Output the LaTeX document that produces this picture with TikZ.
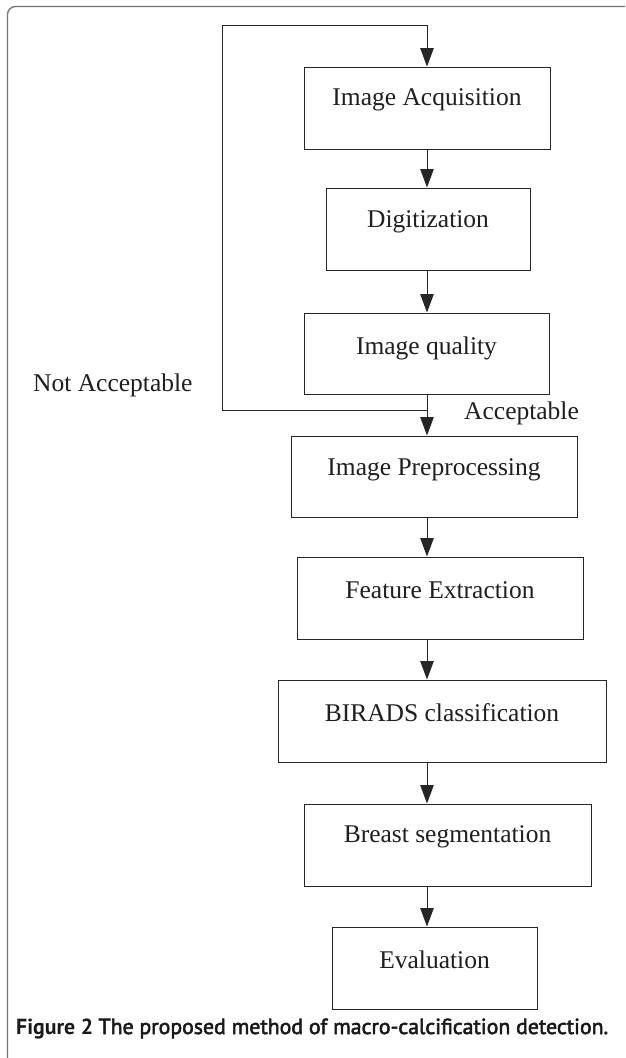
\documentclass[tikz,border=0pt]{standalone}
\usepackage{fontspec}
\setmainfont{Liberation Serif}
\newfontfamily\capfont{PT Sans}
\newfontfamily\capmed{PT Sans}[FakeBold=2.5]
\usetikzlibrary{arrows.meta}
\begin{document}
\begin{tikzpicture}[x=1pt,y=-1pt,
  box/.style={draw=black!85, line width=1pt, inner sep=0pt},
  txt/.style={font=\fontsize{25.5}{30}\selectfont, text=black!88, inner sep=0pt},
  arr/.style={draw=black!85, line width=1pt, -{Triangle[length=18.5pt,width=13.5pt]}},
  frame/.style={draw=black!55, line width=1.3pt}]
\useasboundingbox (0,0) rectangle (625,1058);
\fill[white] (0,0) rectangle (625,1058);
\draw[frame, rounded corners=8pt] (625,6.5) -- (7.5,6.5) -- (7.5,1058);
\coordinate (ax) at (427,0);
\coordinate (loopL) at (222,25);
\coordinate (lb) at (427,410);
% boxes
\node[box, minimum width=246pt, minimum height=82pt] (b1) at (427,108) {};
\node[box, minimum width=204pt, minimum height=82pt] (b2) at (428,229) {};
\node[box, minimum width=245pt, minimum height=81pt] (b3) at (426.5,353.5) {};
\node[box, minimum width=286pt, minimum height=81pt] (b4) at (434,476.5) {};
\node[box, minimum width=286pt, minimum height=82pt] (b5) at (440,598) {};
\node[box, minimum width=328pt, minimum height=82pt] (b6) at (442,721) {};
\node[box, minimum width=287pt, minimum height=82pt] (b7) at (447.5,845) {};
\node[box, minimum width=205pt, minimum height=82pt] (b8) at (434.5,968) {};
% texts
\node[txt] (t1) at (427,100) {Image Acquisition};
\node[txt] (t2) at (428,222) {Digitization};
\node[txt] (t3) at (426.5,348) {Image quality};
\node[txt] (t4) at (434,470) {Image Preprocessing};
\node[txt] (t5) at (440,590) {Feature Extraction};
\node[txt] (t6) at (442,713) {BIRADS classification};
\node[txt] (t7) at (447.5,837) {Breast segmentation};
\node[txt] (t8) at (434.5,960) {Evaluation};
\node[txt, anchor=base west] (na) at (33,391) {Not Acceptable};
\node[txt, anchor=base west] (ac) at (464,419) {Acceptable};
% connectors
\draw[arr] (b1.south -| ax) -- (b2.north -| ax);
\draw[arr] (b2.south -| ax) -- (b3.north -| ax);
\draw[arr] (b3.south -| ax) -- (b4.north -| ax);
\draw[arr] (b4.south -| ax) -- (b5.north -| ax);
\draw[arr] (b5.south -| ax) -- (b6.north -| ax);
\draw[arr] (b6.south -| ax) -- (b7.north -| ax);
\draw[arr] (b7.south -| ax) -- (b8.north -| ax);
\draw[arr] (lb) -| (loopL) -- (loopL -| ax) -- (b1.north -| ax);
% caption
\node[anchor=base west, inner sep=0pt, text=black!90] (cap) at (16,1034)
  {\resizebox{592pt}{!}{\fontsize{20}{24}\selectfont{\capfont\bfseries Figure 2} {\capmed The proposed method of macro-calcification detection.}}};
\end{tikzpicture}
\end{document}
